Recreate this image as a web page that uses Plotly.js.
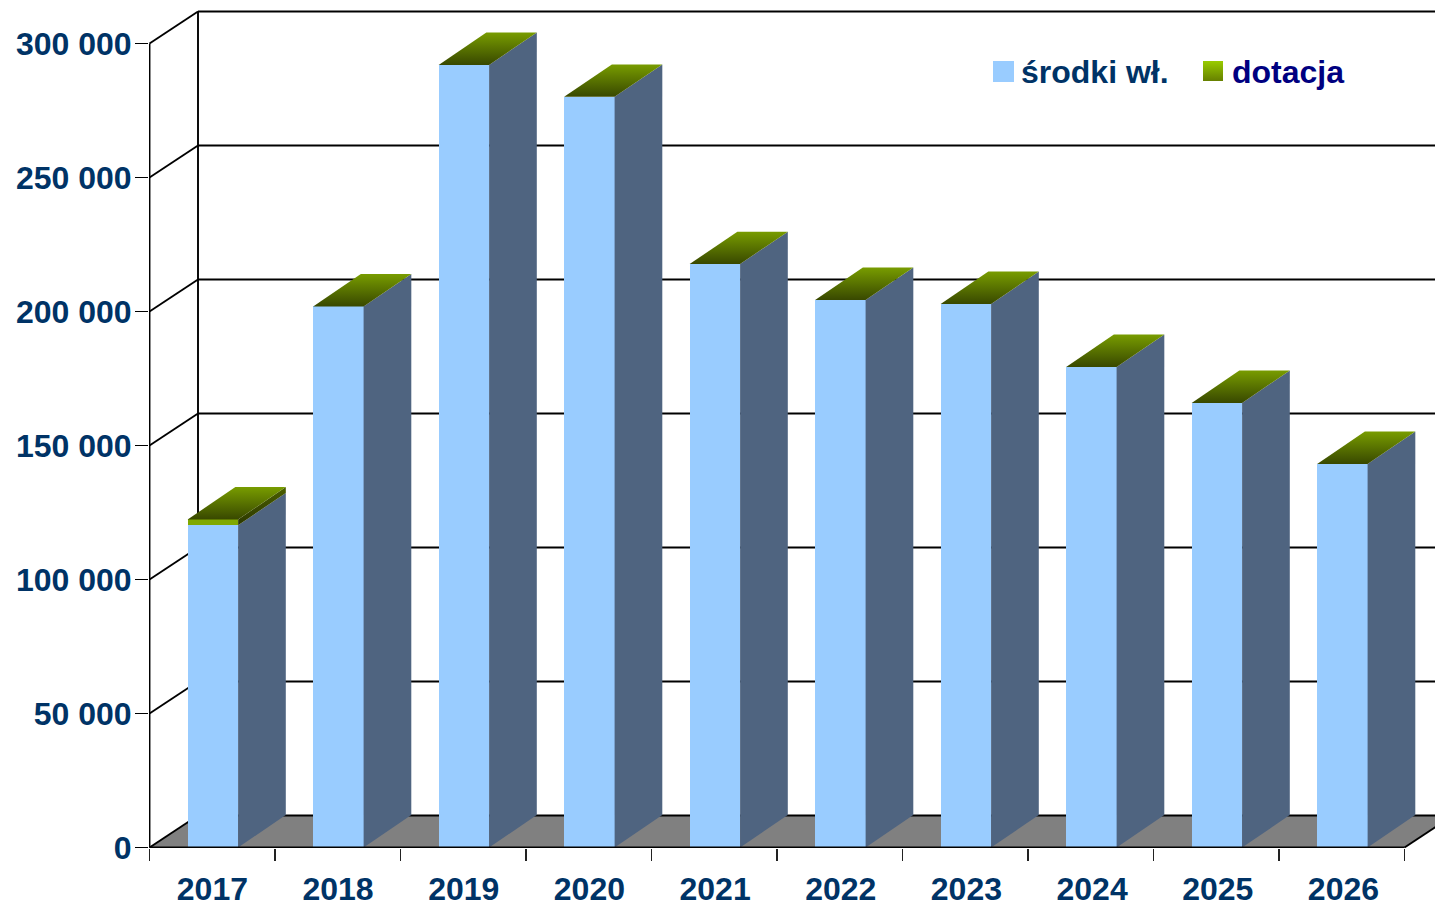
<!DOCTYPE html>
<html><head><meta charset="utf-8">
<script src="https://cdn.plot.ly/plotly-3.0.1.min.js"></script>
<style>html,body{margin:0;padding:0;background:#fff;overflow:hidden}</style>
</head><body><div id="chart" style="width:1435px;height:905px"></div>
<script>
const years = ['2017','2018','2019','2020','2021','2022','2023','2024','2025','2026'];
const srodki = [120200,201900,292000,280100,217700,204300,202800,179300,165900,143100];
const dotacja = [2200,0,0,0,0,0,0,0,0,0];
const yTicks = [0,50000,100000,150000,200000,250000,300000];
const yLabels = ['0','50 000','100 000','150 000','200 000','250 000','300 000'];
const legendNames = ['środki wł.','dotacja'];

// layout constants (pixels)
const W=1435,H=905,L=149,T=8,B=57,x0px=149.5,unit=125.5,y0px=847.5,perVal=2.68/1000;
const px2x=p=>(p-x0px)/unit-0.5, px2y=p=>(y0px-p)/perVal;
const wallDx=48.5/unit, wallDy=32/perVal, barDx=47.7/unit, barDy=32.4/perVal;
const barW=0.402, barShift=0.005;
const xIdx=years.map((_,i)=>i);
const totals=srodki.map((v,i)=>v+dotacja[i]);
const xMax=9.5, yTop=300000;
const FRONT='#99ccff',SIDE='#4f6480',FLOOR='#808080',NAVY='#003366';

const shapes=[];
// floor
shapes.push({type:'path',layer:'below',xref:'x',yref:'y',fillcolor:FLOOR,line:{width:0},
 path:`M${-0.5},0L${-0.5+wallDx},${wallDy}L${xMax+wallDx},${wallDy}L${xMax},0Z`});
const ln=(a,b,c,d)=>shapes.push({type:'line',layer:'below',xref:'x',yref:'y',x0:a,y0:b,x1:c,y1:d,line:{color:'#000',width:1.9}});
yTicks.forEach(v=>{
  ln(-0.5,v,-0.5+wallDx,v+wallDy);
  ln(-0.5+wallDx,v+wallDy,xMax+wallDx,v+wallDy);
});
ln(-0.5+wallDx,wallDy,-0.5+wallDx,yTop+wallDy);
ln(xMax,0,xMax+wallDx,wallDy);

const traces=[];
traces.push({type:'bar',name:legendNames[0],x:xIdx,y:srodki,width:barW,offset:-barW/2+barShift,
  marker:{color:FRONT,line:{width:0}},hoverinfo:'y'});
traces.push({type:'bar',name:legendNames[1],x:xIdx,y:dotacja,width:barW,offset:-barW/2+barShift,
  marker:{color:'#80a800',line:{width:0}},hoverinfo:'y'});

const left=i=>i-barW/2+barShift, right=i=>i+barW/2+barShift;
const poly=(xs,ys,extra)=>Object.assign({type:'scatter',mode:'none',x:xs,y:ys,fill:'toself',hoverinfo:'skip'},extra);
xIdx.forEach(i=>{
  // side face of the main series
  traces.push(poly([right(i),right(i)+barDx,right(i)+barDx,right(i),right(i)],
    [0,barDy,srodki[i]+barDy,srodki[i],0],{fillcolor:SIDE}));
  // side face of the grant segment
  if(dotacja[i]>0) traces.push(poly([right(i),right(i)+barDx,right(i)+barDx,right(i),right(i)],
    [srodki[i],srodki[i]+barDy,totals[i]+barDy,totals[i],srodki[i]],
    {fillgradient:{type:'vertical',colorscale:[[0,'#2c3800'],[1,'#4a5e00']]}}));
  // top face
  traces.push(poly([left(i),right(i),right(i)+barDx,left(i)+barDx,left(i)],
    [totals[i],totals[i],totals[i]+barDy,totals[i]+barDy,totals[i]],
    {fillgradient:{type:'vertical',colorscale:[[0,'#384800'],[1,'#789c00']]}}));
});
// axis lines
const axisLine={type:'scatter',mode:'lines',cliponaxis:false,hoverinfo:'skip',line:{color:'#000',width:1.9}};
traces.push(Object.assign({},axisLine,{x:[-0.5,-0.5],y:[0,yTop]}));
traces.push(Object.assign({},axisLine,{x:[-0.5,xMax],y:[0,0]}));

// legend swatches
const swatch=(a,b,c,d,extra)=>poly([px2x(a),px2x(b),px2x(b),px2x(a),px2x(a)],[px2y(c),px2y(c),px2y(d),px2y(d),px2y(c)],extra);
traces.push(swatch(993,1014,61,82,{fillcolor:FRONT}));
traces.push(swatch(1203,1223,61,81,{fillgradient:{type:'vertical',colorscale:[[0,'#668000'],[1,'#99cc00']]}}));

const boundaries=[...xIdx.map(i=>i-0.5),xMax];
const labelPos=xIdx.map(i=>px2x(212.4+125.67*i));
const layout={
 width:W,height:H,margin:{l:L,r:0,t:T,b:B},paper_bgcolor:'#fff',plot_bgcolor:'#fff',
 showlegend:false,barmode:'stack',shapes,
 font:{family:'"Liberation Sans",Arial,sans-serif',size:32,color:NAVY},
 xaxis:{type:'linear',range:[px2x(L),px2x(W)],tickmode:'array',tickvals:labelPos,ticktext:years,showgrid:false,zeroline:false,showline:false,
   ticks:'outside',ticklen:12,tickcolor:'rgba(0,0,0,0)',ticklabelstandoff:1,
   tickfont:{size:32,family:'"Liberation Sans",Arial,sans-serif',weight:'bold',color:NAVY},
   minor:{tickmode:'array',tickvals:boundaries,ticks:'outside',ticklen:12,tickwidth:1.9,tickcolor:'#222',showgrid:false}},
 yaxis:{range:[px2y(H-B),px2y(T)],tickmode:'array',tickvals:yTicks,ticktext:yLabels,showgrid:false,zeroline:false,showline:false,
   ticks:'outside',ticklen:13,tickwidth:1.9,tickcolor:'#000',ticklabelstandoff:-3,
   tickfont:{size:32,family:'"Liberation Sans",Arial,sans-serif',weight:'bold',color:NAVY}},
 annotations:[
  {xref:'paper',yref:'paper',x:(1020-L)/(W-L),y:1-(72-T)/(H-T-B),xanchor:'left',yanchor:'middle',showarrow:false,borderpad:0,
   text:'<b>'+legendNames[0]+'</b>',font:{size:32,color:NAVY,family:'"Liberation Sans",Arial,sans-serif'}},
  {xref:'paper',yref:'paper',x:(1230.5-L)/(W-L),y:1-(72-T)/(H-T-B),xanchor:'left',yanchor:'middle',showarrow:false,borderpad:0,
   text:'<b>'+legendNames[1]+'</b>',font:{size:32,color:'#000080',family:'"Liberation Sans",Arial,sans-serif'}}
 ]
};
Plotly.newPlot('chart',traces,layout,{displayModeBar:false,staticPlot:true});
</script></body></html>
